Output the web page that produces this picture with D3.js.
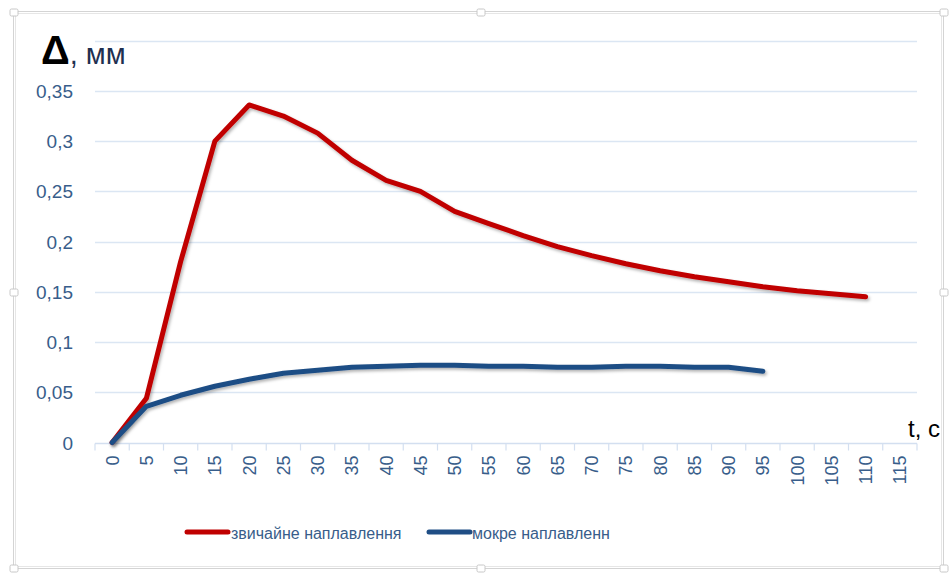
<!DOCTYPE html>
<html>
<head>
<meta charset="utf-8">
<script src="https://cdn.jsdelivr.net/npm/d3@7"></script>
<style>
  body { margin: 0; background: #fff; }
  svg { display: block; font-family: "Liberation Sans", Arial, sans-serif; }
</style>
</head>
<body>
<div id="chart"></div>
<script>
// data
const times = d3.range(0, 120, 5); // 0..115 categories
const yTicks = [0, 0.05, 0.1, 0.15, 0.2, 0.25, 0.3, 0.35, 0.4];
const regularValues = [0, 0.044, 0.18, 0.30, 0.336, 0.325, 0.308, 0.281, 0.261, 0.250, 0.230,
  0.218, 0.206, 0.195, 0.186, 0.178, 0.171, 0.165, 0.160, 0.155, 0.151, 0.148, 0.145];
const wetValues = [0, 0.036, 0.047, 0.056, 0.063, 0.069, 0.072, 0.075, 0.076, 0.077, 0.077,
  0.076, 0.076, 0.075, 0.075, 0.076, 0.076, 0.075, 0.075, 0.071];
const seriesNames = ["звичайне наплавлення", "мокре наплавленн"];
const seriesColors = ["#c00000", "#1f4e85"];

const width = 949, height = 573;
const plot = { left: 95, right: 917, top: 40.7, bottom: 442.5 };

const svg = d3.select("#chart").append("svg")
  .attr("width", width)
  .attr("height", height);

// outer chart frame like in the spreadsheet
svg.append("rect").attr("x", 13.5).attr("y", 11.5).attr("width", 930).attr("height", 557)
  .attr("fill", "none").attr("stroke", "#d4d4d4");
svg.append("rect").attr("x", 15.5).attr("y", 13.5).attr("width", 926).attr("height", 553)
  .attr("fill", "none").attr("stroke", "#e6e6e6");
[[14, 12], [481, 12], [944, 12], [14, 292], [944, 292], [14, 568], [481, 568], [944, 568]]
  .forEach(([hx, hy]) => {
    svg.append("rect").attr("x", hx - 4).attr("y", hy - 3).attr("width", 8).attr("height", 7)
      .attr("rx", 1.5).attr("fill", "#fff").attr("stroke", "#c8c8c8");
  });

const x = d3.scaleBand().domain(times).range([plot.left, plot.right]);
const y = d3.scaleLinear().domain([0, 0.4]).range([plot.bottom, plot.top]);

// gridlines
svg.append("g")
  .selectAll("line")
  .data(yTicks.slice(1))
  .enter()
  .append("line")
  .attr("x1", plot.left).attr("x2", plot.right)
  .attr("y1", (d) => Math.round(y(d)) + 0.5).attr("y2", (d) => Math.round(y(d)) + 0.5)
  .attr("stroke", "#dbe6f3").attr("stroke-width", 1.5);

// y labels
const fmt = (d) => String(d).replace(".", ",");
svg.append("g")
  .selectAll("text")
  .data(yTicks.slice(0, -1))
  .enter()
  .append("text")
  .attr("x", 73)
  .attr("y", (d) => y(d) + 7)
  .attr("text-anchor", "end")
  .attr("fill", "#385d8a")
  .style("font-size", "19px")
  .text(fmt);

// x axis
const xAxis = svg.append("g")
  .attr("transform", `translate(0,${Math.round(plot.bottom) + 0.5})`);
xAxis.append("line").attr("x1", plot.left).attr("x2", plot.right)
  .attr("stroke", "#d3dff0").attr("stroke-width", 1.5);
xAxis.selectAll("line.tick")
  .data(times.concat(["end"]))
  .enter()
  .append("line")
  .attr("class", "tick")
  .attr("x1", (d) => (d === "end" ? plot.right : x(d)))
  .attr("x2", (d) => (d === "end" ? plot.right : x(d)))
  .attr("y1", 0).attr("y2", 7)
  .attr("stroke", "#d3dff0").attr("stroke-width", 1.2);
xAxis.selectAll("text")
  .data(times)
  .enter()
  .append("text")
  .attr("transform", (d) => `translate(${x(d) + x.bandwidth() / 2 + 6.5},12) rotate(-90)`)
  .attr("text-anchor", "end")
  .attr("fill", "#385d8a")
  .style("font-size", "18px")
  .text((d) => d);

// lines
const line = d3.line()
  .x((d, i) => x(times[i]) + x.bandwidth() / 2)
  .y((d) => y(d));

const defs = svg.append("defs");
defs.append("filter").attr("id", "shadow")
  .attr("x", "-5%").attr("y", "-5%").attr("width", "110%").attr("height", "120%")
  .append("feDropShadow")
  .attr("dx", 1.5).attr("dy", 2).attr("stdDeviation", 1.5)
  .attr("flood-color", "#000").attr("flood-opacity", 0.3);

[regularValues, wetValues].forEach((vals, i) => {
  svg.append("path")
    .datum(vals)
    .attr("d", line)
    .attr("fill", "none")
    .attr("stroke", seriesColors[i])
    .attr("stroke-width", 5)
    .attr("stroke-linejoin", "round")
    .attr("stroke-linecap", "round")
    .attr("filter", "url(#shadow)");
});

// axis titles
const yTitle = svg.append("text").attr("x", 41).attr("y", 64);
yTitle.append("tspan").attr("fill", "#000").style("font-size", "40px").style("font-weight", "bold").text("Δ");
yTitle.append("tspan").attr("fill", "#1f3050").style("font-size", "29px").text(", мм");

svg.append("text")
  .attr("x", 940).attr("y", 437)
  .attr("text-anchor", "end")
  .attr("fill", "#000")
  .style("font-size", "24px")
  .text("t, c");

// legend
const legendItems = [{ x1: 187, x2: 228, tx: 231 }, { x1: 429, x2: 470, tx: 472 }];
legendItems.forEach((item, i) => {
  svg.append("line")
    .attr("x1", item.x1).attr("x2", item.x2)
    .attr("y1", 532).attr("y2", 532)
    .attr("stroke", seriesColors[i]).attr("stroke-width", 5)
    .attr("stroke-linecap", "round");
  svg.append("text")
    .attr("x", item.tx).attr("y", 538.5)
    .attr("fill", "#385d8a")
    .style("font-size", "16px")
    .text(seriesNames[i]);
});
</script>
</body>
</html>
